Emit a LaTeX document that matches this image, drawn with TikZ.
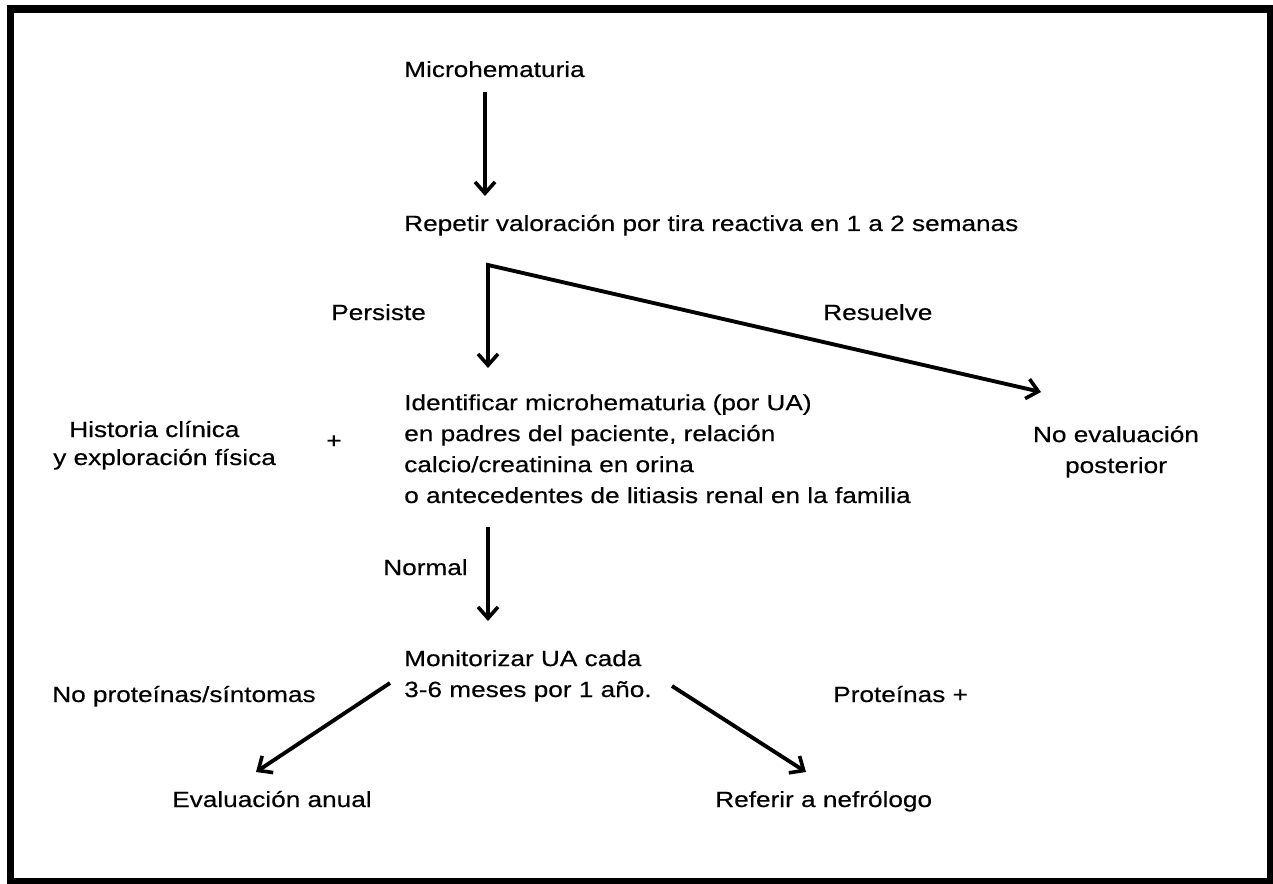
\documentclass[tikz,border=0pt]{standalone}
\usepackage{fontspec}
\setmainfont{Liberation Sans}[FakeStretch=1.19, FakeBold=0.4]
\usetikzlibrary{arrows.meta}
\begin{document}
\begin{tikzpicture}[x=0.75pt,y=-0.75pt,
  txt/.style={inner sep=0pt, anchor=base west, font=\fontsize{16.5}{23.2}\selectfont},
  tip/.tip={Straight Barb[length=8.5pt,width=15pt,line width=2.7pt]},
  arr/.style={line width=2.9pt, line join=miter, -tip},
  frame/.style={line width=5.5pt}]
\useasboundingbox (0,0) rectangle (1273,884);
\draw[frame] (10.5,9) rectangle (1270.5,882);

\node[txt] (micro) at (404,77) {Microhematuria};
\node[txt] (rep) at (404,231) {Repetir valoración por tira reactiva en 1 a 2 semanas};
\node[txt] (pers) at (331,320) {Persiste};
\node[txt] (res) at (823,320) {Resuelve};
\node[txt, align=left] (ident) at (404,503) {Identificar microhematuria (por UA)\\en padres del paciente, relación\\calcio/creatinina en orina\\o antecedentes de litiasis renal en la familia};
\node[txt, align=left, font=\fontsize{16.5}{21}\selectfont] (hist) at (53,465) {\hspace*{12pt}Historia clínica\\y exploración física};
\node[txt] (plus) at (326,448) {+};
\node[txt, align=center, anchor=base] (noev) at (1116,473) {No evaluación\\posterior};
\node[txt] (norm) at (383,575) {Normal};
\node[txt, align=left] (mon) at (404,697) {Monitorizar UA cada\\3-6 meses por 1 año.};
\node[txt] (nop) at (52,702) {No proteínas/síntomas};
\node[txt] (prot) at (833,702) {Proteínas +};
\node[txt] (eval) at (172,807) {Evaluación anual};
\node[txt] (ref) at (715,807) {Referir a nefrólogo};

\coordinate (a1s) at (485,92);
\coordinate (a1e) at (485,196);
\coordinate (br) at (488,265);
\coordinate (brD) at (488,368);
\coordinate (brR) at (1041,392);
\coordinate (a3s) at (488,527);
\coordinate (a3e) at (488,621);
\coordinate (a4s) at (390,683);
\coordinate (a4e) at (256,772);
\coordinate (a5s) at (672,686);
\coordinate (a5e) at (806,772);

\draw[arr] (a1s) -- (a1e);
\draw[arr, tip-tip] (brD) -- (br) -- (brR);
\draw[arr] (a3s) -- (a3e);
\draw[arr] (a4s) -- (a4e);
\draw[arr] (a5s) -- (a5e);
\end{tikzpicture}
\end{document}
